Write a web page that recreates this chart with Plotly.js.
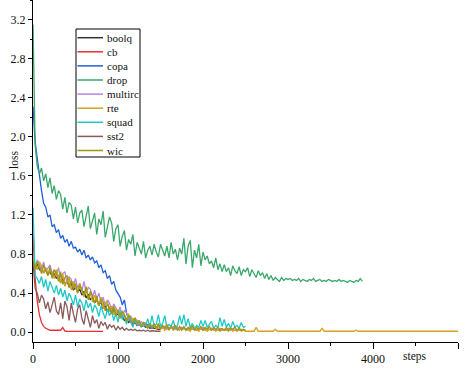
<!DOCTYPE html>
<html>
<head>
<meta charset="utf-8">
<script src="https://cdn.plot.ly/plotly-3.0.1.min.js"></script>
<style>html,body{margin:0;padding:0;background:#fff;}#chart{width:468px;height:370px;}</style>
</head>
<body>
<div id="chart"></div>
<script>
// ---- data (loss sampled every 25 steps, starting at step 0) ----
const STEP = 25;
const seriesNames = ["boolq","cb","copa","drop","multirc","rte","squad","sst2","wic"];
const seriesColors = ["#333333","#e8312f","#1f60d8","#3aa86b","#b784e8","#d4a020","#1ec8c8","#8a5a5a","#9c9a10"];

const boolq = [0.72,0.66,0.70,0.64,0.66,0.61,0.65,0.59,0.62,0.57,
 0.60,0.55,0.58,0.51,0.55,0.48,0.53,0.46,0.50,0.43,
 0.46,0.41,0.44,0.38,0.42,0.35,0.39,0.33,0.36,0.30,
 0.33,0.28,0.31,0.24,0.28,0.21,0.25,0.19,0.23,0.17,
 0.19,0.15,0.17,0.12,0.14,0.10,0.12,0.08,0.10,0.07,
 0.08,0.06,0.07,0.05,0.06,0.04,0.05,0.04,0.04,0.03,
 0.03];

const cb = [1.00,0.55,0.32,0.18,0.10,0.06,0.04,0.03,0.02,0.02,
 0.02,0.015,0.015,0.02,0.05,0.012,0.01,0.01,0.01,0.01,
 0.01,0.008,0.01,0.008,0.01,0.008,0.008,0.01,0.008,0.008,
 0.008,0.008,0.008,0.008];

const copa = [2.31,1.95,1.78,1.60,1.45,1.32,1.28,1.18,1.20,1.08,
 1.10,1.02,1.05,0.96,0.99,0.92,0.95,0.88,0.93,0.86,
 0.87,0.82,0.85,0.79,0.84,0.76,0.79,0.74,0.77,0.71,
 0.73,0.66,0.69,0.61,0.63,0.55,0.58,0.49,0.52,0.43,
 0.40,0.36,0.28,0.33,0.20,0.13,0.10,0.08,0.12,0.07,
 0.09,0.06,0.10,0.05,0.08,0.06,0.04,0.07,0.05,0.06,
 0.04];

const drop = [3.15,1.92,1.70,1.62,1.68,1.55,1.62,1.48,1.58,1.42,
 1.50,1.36,1.45,1.41,1.26,1.38,1.22,1.33,1.30,1.16,
 1.28,1.12,1.22,1.25,1.08,1.18,1.29,1.06,1.14,1.22,
 1.00,1.16,1.10,1.24,0.97,1.08,1.18,1.12,0.93,1.06,
 1.10,0.88,0.98,1.04,0.84,0.95,0.90,1.00,0.78,0.92,
 0.86,0.80,0.93,0.76,0.84,0.88,0.79,0.90,0.82,0.77,
 0.90,0.84,0.78,0.88,0.76,0.92,0.80,0.85,0.74,0.86,
 0.80,0.96,0.70,0.88,0.94,0.66,0.84,0.76,0.90,0.68,
 0.82,0.74,0.78,0.70,0.73,0.66,0.76,0.64,0.70,0.62,
 0.69,0.62,0.66,0.58,0.68,0.63,0.60,0.67,0.58,0.64,
 0.62,0.66,0.57,0.64,0.60,0.56,0.63,0.58,0.61,0.55,
 0.60,0.54,0.58,0.53,0.56,0.54,0.52,0.56,0.53,0.55,
 0.54,0.55,0.53,0.54,0.53,0.55,0.52,0.54,0.53,0.52,
 0.54,0.53,0.55,0.52,0.53,0.54,0.52,0.53,0.52,0.54,
 0.53,0.52,0.53,0.52,0.54,0.52,0.53,0.52,0.51,0.53,
 0.52,0.51,0.53,0.52,0.55,0.52];

const multirc = [0.78,0.66,0.74,0.70,0.63,0.72,0.62,0.66,0.69,0.60,
 0.64,0.58,0.66,0.55,0.60,0.62,0.50,0.57,0.54,0.47,
 0.55,0.45,0.50,0.42,0.52,0.40,0.46,0.44,0.36,0.43,
 0.34,0.40,0.30,0.36,0.27,0.33,0.30,0.22,0.29,0.25,
 0.19,0.26,0.16,0.22,0.20,0.12,0.17,0.10,0.14,0.12,
 0.07,0.11,0.06,0.10,0.05,0.08,0.06,0.09,0.03,0.07,
 0.07,0.04,0.06,0.03,0.05,0.04,0.06,0.03,0.05,0.02,
 0.05,0.03,0.04,0.02,0.05,0.03,0.04,0.02,0.04,0.03,
 0.05,0.02,0.04,0.03,0.04,0.02,0.03,0.02,0.04,0.02,
 0.03,0.02,0.04,0.02,0.03,0.02,0.03,0.02,0.03,0.02,
 0.02];

const rte = [0.76,0.70,0.64,0.72,0.68,0.60,0.66,0.58,0.63,0.60,
 0.55,0.64,0.58,0.50,0.60,0.47,0.53,0.56,0.43,0.52,
 0.46,0.40,0.50,0.44,0.36,0.47,0.34,0.40,0.31,0.38,
 0.33,0.27,0.36,0.24,0.30,0.32,0.21,0.27,0.18,0.24,
 0.20,0.14,0.22,0.17,0.12,0.19,0.10,0.14,0.11,0.08,
 0.12,0.06,0.10,0.08,0.04,0.09,0.05,0.07,0.03,0.06,
 0.03,0.06,0.02,0.05,0.03,0.06,0.02,0.04,0.02,0.05,
 0.02,0.05,0.02,0.04,0.01,0.05,0.02,0.03,0.01,0.04,
 0.02,0.04,0.01,0.03,0.02,0.05,0.01,0.03,0.01,0.03,
 0.02,0.03,0.01,0.04,0.01,0.02,0.01,0.03,0.01,0.02,
 0.01,
 0.01,0.01,0.01,0.01,0.05,0.01,0.01,0.01,0.01,0.01,
 0.01,0.01,0.01,0.03,0.01,0.01,0.01,0.015,0.01,0.01,
 0.01,0.01,0.015,0.01,0.01,0.01,0.01,0.01,0.01,0.01,
 0.01,0.01,0.01,0.01,0.01,0.04,0.01,0.01,0.01,0.01,
 0.01,0.01,0.015,0.01,0.01,0.01,0.01,0.01,0.01,0.01,
 0.01,0.02,0.01,0.01,0.01,0.01,0.01,0.01,0.015,0.01,
 0.01,0.01,0.01,0.01,0.01,0.01,0.015,0.01,0.01,0.01,
 0.01,0.01,0.01,0.01,0.015,0.01,0.01,0.01,0.01,0.01,
 0.01,0.01,0.01,0.01,0.01,0.01,0.01,0.01,0.01,0.01,
 0.01,0.01,0.01,0.01,0.01,0.01,0.01,0.01,0.01,0.01];

const squad = [1.28,0.58,0.55,0.50,0.57,0.46,0.54,0.42,0.52,0.45,
 0.40,0.48,0.38,0.45,0.36,0.43,0.32,0.40,0.35,0.28,
 0.38,0.26,0.34,0.30,0.22,0.33,0.25,0.30,0.20,0.28,
 0.24,0.16,0.27,0.20,0.14,0.24,0.17,0.22,0.12,0.20,
 0.10,0.22,0.13,0.18,0.08,0.16,0.11,0.05,0.14,0.07,
 0.12,0.05,0.10,0.06,0.14,0.05,0.17,0.07,0.08,0.18,
 0.06,0.09,0.17,0.05,0.08,0.06,0.12,0.04,0.07,0.17,
 0.08,0.18,0.06,0.14,0.05,0.09,0.04,0.07,0.05,0.12,
 0.06,0.12,0.05,0.08,0.11,0.04,0.07,0.05,0.15,0.06,
 0.13,0.05,0.09,0.04,0.11,0.05,0.07,0.04,0.10,0.05,
 0.06];

const sst2 = [0.72,0.45,0.40,0.30,0.38,0.34,0.24,0.31,0.20,0.27,
 0.36,0.22,0.18,0.30,0.14,0.32,0.26,0.12,0.30,0.19,
 0.10,0.24,0.28,0.14,0.08,0.22,0.12,0.05,0.17,0.09,
 0.13,0.04,0.11,0.07,0.10,0.03,0.08,0.05,0.07,0.02,
 0.06,0.03,0.05,0.02,0.04,0.02,0.03,0.02,0.03,0.015,
 0.02,0.015,0.02,0.01,0.02,0.01,0.015,0.01,0.01,0.01,
 0.01];

const wic = [0.74,0.64,0.72,0.67,0.60,0.69,0.63,0.58,0.67,0.55,
 0.64,0.60,0.52,0.62,0.49,0.56,0.58,0.46,0.53,0.44,
 0.50,0.40,0.48,0.43,0.38,0.46,0.33,0.42,0.37,0.30,
 0.37,0.27,0.34,0.31,0.22,0.29,0.25,0.19,0.27,0.17,
 0.23,0.15,0.21,0.18,0.11,0.17,0.13,0.09,0.15,0.08,
 0.12,0.06,0.10,0.08,0.04,0.09,0.05,0.08,0.04,0.09,
 0.03,0.07,0.04,0.08,0.02,0.06,0.03,0.07,0.02,0.06,
 0.03,0.06,0.02,0.05,0.03,0.07,0.02,0.05,0.03,0.06,
 0.02,0.05,0.03,0.06,0.02,0.04,0.03,0.05,0.02,0.04,
 0.02,0.05,0.02,0.04,0.03,0.05,0.02,0.04,0.02,0.03,
 0.02];

const seriesValues = [boolq, cb, copa, drop, multirc, rte, squad, sst2, wic];
const xTickVals = [0,1000,2000,3000,4000,5000];
const yTickVals = [0.0,0.4,0.8,1.2,1.6,2.0,2.4,2.8,3.2];
const xLabel = "steps";
const yLabel = "loss";

// ---- layout geometry ----
const W = 468, H = 370;
const M = {l:33, r:10, t:0, b:28};
const FONT = "Times New Roman";
const px = v => (v - M.l) / (W - M.l - M.r);
const py = v => 1 - (v - M.t) / (H - M.t - M.b);

const traces = seriesNames.map((name, k) => ({
  type: "scatter", mode: "lines", name: name,
  x: seriesValues[k].map((_, i) => i * STEP),
  y: seriesValues[k],
  line: {color: seriesColors[k], width: 1.3},
  showlegend: false, hoverinfo: "skip"
}));

// manual legend (compact row spacing like the reference)
const shapes = [{type:"rect", xref:"paper", yref:"paper",
  x0: px(76), x1: px(140), y0: py(157), y1: py(29),
  line:{color:"#000", width:1}, fillcolor:"#fff", layer:"above"}];
const annotations = [];
seriesNames.forEach((name, k) => {
  const yy = 37.7 + k * 14.1;
  shapes.push({type:"line", xref:"paper", yref:"paper",
    x0: px(77.5), x1: px(103), y0: py(yy), y1: py(yy),
    line:{color: seriesColors[k], width: 1.5}, layer:"above"});
  annotations.push({xref:"paper", yref:"paper", x: px(105), y: py(yy),
    xanchor:"left", yanchor:"middle", text: name, showarrow:false,
    font:{family:FONT, size:11, color:"#111"}});
});
annotations.push({xref:"paper", yref:"paper", x: px(415), y: py(357),
  xanchor:"center", yanchor:"middle", text: xLabel, showarrow:false,
  font:{family:FONT, size:11.5, color:"#111"}});
annotations.push({xref:"paper", yref:"paper", x: px(14), y: py(160),
  xanchor:"center", yanchor:"middle", text: yLabel, textangle:-90, showarrow:false,
  font:{family:FONT, size:11.5, color:"#111"}});

const layout = {
  width: W, height: H, margin: M,
  paper_bgcolor: "#fff", plot_bgcolor: "#fff",
  font: {family: FONT, size: 11.5, color: "#111"},
  showlegend: false,
  xaxis: {range:[0,5000], tickvals: xTickVals, ticktext: xTickVals.map(String),
    ticks:"outside", ticklen:6, tickwidth:1, tickcolor:"#000",
    showline:true, linecolor:"#000", linewidth:1, showgrid:false, zeroline:false,
    minor:{tickvals:[500,1500,2500,3500,4500], ticks:"outside", ticklen:3, tickcolor:"#000", showgrid:false},
    tickfont:{family:FONT, size:12, color:"#111"}},
  yaxis: {range:[-0.1,3.4], tickvals: yTickVals, ticktext: yTickVals.map(v => v.toFixed(1)),
    ticks:"outside", ticklen:4, tickwidth:1, tickcolor:"#000",
    showline:true, linecolor:"#000", linewidth:1, showgrid:false, zeroline:false,
    minor:{tickvals:[0.2,0.6,1.0,1.4,1.8,2.2,2.6,3.0,3.4], ticks:"outside", ticklen:2.5, tickcolor:"#000", showgrid:false},
    tickfont:{family:FONT, size:12, color:"#111"}},
  shapes: shapes,
  annotations: annotations
};

Plotly.newPlot("chart", traces, layout, {displayModeBar:false, staticPlot:true});
</script>
</body>
</html>
